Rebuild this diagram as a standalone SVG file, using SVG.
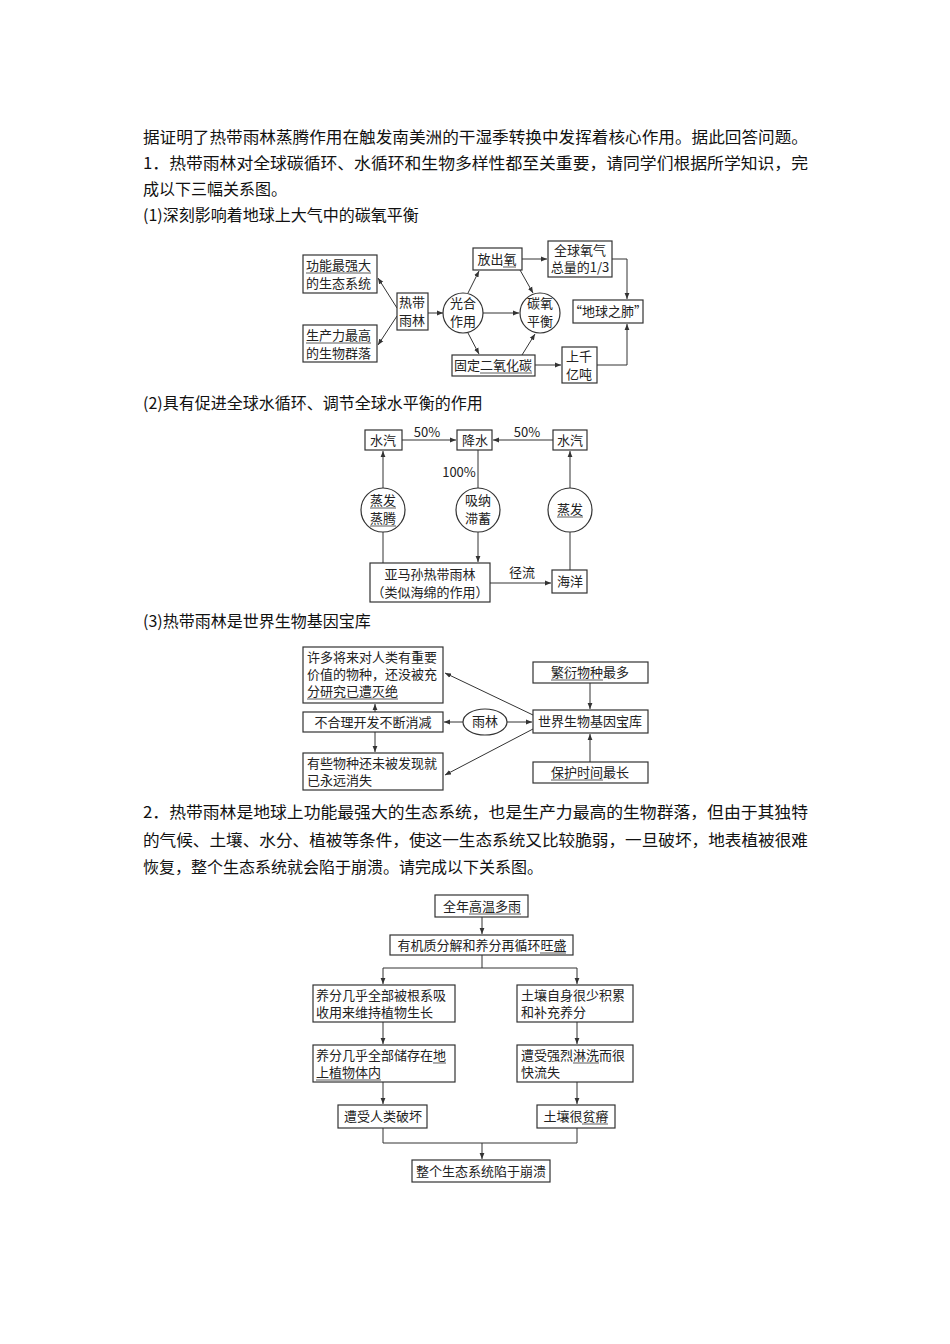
<svg xmlns="http://www.w3.org/2000/svg" width="950" height="1344" viewBox="0 0 950 1344">
<defs>
<marker id="a" viewBox="0 0 10 10" refX="10" refY="5" markerWidth="6" markerHeight="6" orient="auto"><path d="M0,1 L10,5 L0,9 Z" fill="#333"/></marker>
</defs>
<style>
.b{fill:#fff;stroke:#333;stroke-width:1.2}
.t{font-family:"Noto Sans CJK SC","Liberation Serif",serif;font-size:16px;fill:#111}
.d{font-family:"Noto Sans CJK SC","Liberation Serif",serif;font-size:13px;fill:#222;text-anchor:middle}
.s{text-anchor:start}
.l{fill:none;stroke:#333;stroke-width:1}
.ar{fill:none;stroke:#333;stroke-width:1;marker-end:url(#a)}
.u{stroke:#333;stroke-width:0.8}
</style>
<rect width="950" height="1344" fill="#fff"/>
<g id="text">
<text class="t" x="143" y="143" textLength="665" lengthAdjust="spacingAndGlyphs">据证明了热带雨林蒸腾作用在触发南美洲的干湿季转换中发挥着核心作用。据此回答问题。</text>
<text class="t" x="143" y="169" textLength="665" lengthAdjust="spacingAndGlyphs">1．热带雨林对全球碳循环、水循环和生物多样性都至关重要，请同学们根据所学知识，完</text>
<text class="t" x="143" y="195">成以下三幅关系图。</text>
<text class="t" x="143" y="221">(1)深刻影响着地球上大气中的碳氧平衡</text>
<text class="t" x="143" y="409">(2)具有促进全球水循环、调节全球水平衡的作用</text>
<text class="t" x="143" y="627">(3)热带雨林是世界生物基因宝库</text>
<text class="t" x="143" y="818" textLength="665" lengthAdjust="spacingAndGlyphs">2．热带雨林是地球上功能最强大的生态系统，也是生产力最高的生物群落，但由于其独特</text>
<text class="t" x="143" y="846" textLength="665" lengthAdjust="spacingAndGlyphs">的气候、土壤、水分、植被等条件，使这一生态系统又比较脆弱，一旦破坏，地表植被很难</text>
<text class="t" x="143" y="873">恢复，整个生态系统就会陷于崩溃。请完成以下关系图。</text>
</g>
<g id="connectors">
<line class="ar" x1="397" y1="308" x2="378" y2="278"/>
<line class="ar" x1="397" y1="316" x2="378" y2="345"/>
<line class="ar" x1="428" y1="313" x2="443" y2="313"/>
<line class="ar" x1="468" y1="293" x2="479" y2="271"/>
<line class="ar" x1="468" y1="333" x2="479" y2="354"/>
<line class="ar" x1="483" y1="313" x2="519" y2="313"/>
<line class="ar" x1="520" y1="270" x2="533" y2="293"/>
<line class="ar" x1="522" y1="355" x2="535" y2="334"/>
<line class="ar" x1="522" y1="259" x2="547" y2="259"/>
<polyline class="ar" points="612,259 627,259 627,299"/>
<line class="ar" x1="535" y1="365" x2="561" y2="365"/>
<polyline class="ar" points="597,365 627,365 627,324"/>
<line class="ar" x1="402" y1="440" x2="456" y2="440"/>
<line class="ar" x1="553" y1="440" x2="493" y2="440"/>
<line class="l" x1="383" y1="563" x2="383" y2="532"/>
<line class="ar" x1="383" y1="488" x2="383" y2="451"/>
<line class="l" x1="478" y1="450" x2="478" y2="488"/>
<line class="ar" x1="478" y1="532" x2="478" y2="562"/>
<line class="l" x1="570" y1="570" x2="570" y2="532"/>
<line class="ar" x1="570" y1="488" x2="570" y2="451"/>
<line class="ar" x1="490" y1="583" x2="551" y2="583"/>
<line class="ar" x1="463" y1="722" x2="444" y2="722"/>
<line class="ar" x1="507" y1="722" x2="532" y2="722"/>
<line class="ar" x1="533" y1="715" x2="445" y2="673"/>
<line class="ar" x1="533" y1="729" x2="445" y2="775"/>
<line class="ar" x1="375" y1="712" x2="375" y2="704"/>
<line class="ar" x1="375" y1="732" x2="375" y2="752"/>
<line class="ar" x1="590" y1="683" x2="590" y2="709"/>
<line class="ar" x1="590" y1="762" x2="590" y2="734"/>
<line class="ar" x1="482" y1="917" x2="482" y2="934"/>
<line class="l" x1="482" y1="955" x2="482" y2="968"/>
<line class="l" x1="383" y1="968" x2="577" y2="968"/>
<line class="ar" x1="383" y1="968" x2="383" y2="984"/>
<line class="ar" x1="577" y1="968" x2="577" y2="984"/>
<line class="ar" x1="383" y1="1022" x2="383" y2="1044"/>
<line class="ar" x1="577" y1="1022" x2="577" y2="1044"/>
<line class="ar" x1="383" y1="1082" x2="383" y2="1104"/>
<line class="ar" x1="577" y1="1082" x2="577" y2="1104"/>
<polyline class="l" points="383,1128 383,1143 577,1143 577,1128"/>
<line class="ar" x1="482" y1="1143" x2="482" y2="1159"/>
</g>
<g id="d1">
<g id="n-gn"><rect class="b" x="303" y="255" width="74" height="38"/><text class="d s" x="306" y="270">功能最强大</text><text class="d s" x="306" y="288">的生态系统</text><line class="u" x1="306" y1="273" x2="371" y2="273"/></g>
<g id="n-scl"><rect class="b" x="303" y="325" width="74" height="37"/><text class="d s" x="306" y="340">生产力最高</text><text class="d s" x="306" y="358">的生物群落</text><line class="u" x1="306" y1="343" x2="371" y2="343"/></g>
<g id="n-rf"><rect class="b" x="397" y="293" width="31" height="37"/><text class="d" x="412" y="307">热带</text><text class="d" x="412" y="325">雨林</text></g>
<g id="n-gh"><circle class="b" cx="463" cy="313" r="20"/><text class="d" x="463" y="308">光合</text><text class="d" x="463" y="326">作用</text></g>
<g id="n-ty"><circle class="b" cx="540" cy="313" r="20"/><text class="d" x="540" y="308">碳氧</text><text class="d" x="540" y="326">平衡</text></g>
<g id="n-fcy"><rect class="b" x="473" y="248" width="49" height="22"/><text class="d" x="497" y="264">放出氧</text><line class="u" x1="503" y1="267" x2="516" y2="267"/></g>
<g id="n-qq"><rect class="b" x="548" y="241" width="64" height="36"/><text class="d" x="580" y="255">全球氧气</text><text class="d" x="580" y="272">总量的1/3</text></g>
<g id="n-fei"><rect class="b" x="573" y="300" width="70" height="23"/><text class="d" x="608" y="316">“地球之肺”</text></g>
<g id="n-gd"><rect class="b" x="452" y="355" width="83" height="21"/><text class="d" x="493" y="370">固定二氧化碳</text><line class="u" x1="480" y1="373" x2="532" y2="373"/></g>
<g id="n-sq"><rect class="b" x="562" y="347" width="35" height="36"/><text class="d" x="579" y="361">上千</text><text class="d" x="579" y="379">亿吨</text></g>
</g>
<g id="d2">
<g id="n-sq1"><rect class="b" x="365" y="430" width="37" height="20"/><text class="d" x="383" y="445">水汽</text></g>
<g id="n-js"><rect class="b" x="457" y="430" width="35" height="20"/><text class="d" x="475" y="445">降水</text></g>
<g id="n-sq2"><rect class="b" x="553" y="430" width="34" height="20"/><text class="d" x="570" y="445">水汽</text></g>
<text class="d" x="427" y="437">50%</text>
<text class="d" x="527" y="437">50%</text>
<text class="d" x="459" y="477">100%</text>
<g id="n-zf"><circle class="b" cx="383" cy="510" r="22"/><text class="d" x="383" y="505">蒸发</text><text class="d" x="383" y="523">蒸腾</text><line class="u" x1="370" y1="508" x2="396" y2="508"/><line class="u" x1="370" y1="526" x2="396" y2="526"/></g>
<g id="n-xn"><circle class="b" cx="478" cy="510" r="22"/><text class="d" x="478" y="505">吸纳</text><text class="d" x="478" y="523">滞蓄</text></g>
<g id="n-zf2"><circle class="b" cx="570" cy="510" r="22"/><text class="d" x="570" y="514">蒸发</text><line class="u" x1="557" y1="517" x2="583" y2="517"/></g>
<g id="n-ymx"><rect class="b" x="370" y="563" width="120" height="39"/><text class="d" x="430" y="579">亚马孙热带雨林</text><text class="d" x="430" y="597">（类似海绵的作用）</text></g>
<g id="n-hy"><rect class="b" x="552" y="570" width="35" height="23"/><text class="d" x="570" y="586">海洋</text></g>
<text class="d" x="522" y="577">径流</text>
</g>
<g id="d3">
<g id="n-xd"><rect class="b" x="303" y="647" width="140" height="56"/><text class="d s" x="307" y="662">许多将来对人类有重要</text><text class="d s" x="307" y="679">价值的物种，还没被充</text><text class="d s" x="307" y="696">分研究已遭灭绝</text><line class="u" x1="307" y1="699" x2="398" y2="699"/></g>
<g id="n-bhl"><rect class="b" x="303" y="712" width="140" height="20"/><text class="d" x="373" y="727">不合理开发不断消减</text></g>
<g id="n-yx"><rect class="b" x="303" y="753" width="140" height="37"/><text class="d s" x="307" y="768">有些物种还未被发现就</text><text class="d s" x="307" y="785">已永远消失</text></g>
<g id="n-yl"><ellipse class="b" cx="485" cy="722" rx="22" ry="13"/><text class="d" x="485" y="726">雨林</text></g>
<g id="n-sj"><rect class="b" x="533" y="710" width="115" height="23"/><text class="d" x="590" y="726">世界生物基因宝库</text></g>
<g id="n-fy"><rect class="b" x="533" y="662" width="115" height="21"/><text class="d" x="590" y="677">繁衍物种最多</text><line class="u" x1="551" y1="680" x2="603" y2="680"/></g>
<g id="n-bh"><rect class="b" x="533" y="762" width="115" height="21"/><text class="d" x="590" y="777">保护时间最长</text><line class="u" x1="551" y1="780" x2="603" y2="780"/></g>
</g>
<g id="d4">
<g id="n-qn"><rect class="b" x="435" y="895" width="93" height="22"/><text class="d" x="482" y="911">全年高温多雨</text><line class="u" x1="469" y1="914" x2="521" y2="914"/></g>
<g id="n-yj"><rect class="b" x="390" y="935" width="183" height="20"/><text class="d" x="482" y="950">有机质分解和养分再循环旺盛</text><line class="u" x1="540" y1="953" x2="566" y2="953"/></g>
<g id="n-yf1"><rect class="b" x="313" y="985" width="142" height="37"/><text class="d s" x="316" y="1000">养分几乎全部被根系吸</text><text class="d s" x="316" y="1017">收用来维持植物生长</text></g>
<g id="n-tr1"><rect class="b" x="517" y="985" width="116" height="37"/><text class="d s" x="521" y="1000">土壤自身很少积累</text><text class="d s" x="521" y="1017">和补充养分</text></g>
<g id="n-yf2"><rect class="b" x="313" y="1045" width="142" height="37"/><text class="d s" x="316" y="1060">养分几乎全部储存在地</text><text class="d s" x="316" y="1077">上植物体内</text><line class="u" x1="433" y1="1063" x2="446" y2="1063"/><line class="u" x1="316" y1="1080" x2="381" y2="1080"/></g>
<g id="n-zs"><rect class="b" x="517" y="1045" width="116" height="37"/><text class="d s" x="521" y="1060">遭受强烈淋洗而很</text><text class="d s" x="521" y="1077">快流失</text><line class="u" x1="573" y1="1063" x2="599" y2="1063"/></g>
<g id="n-zr"><rect class="b" x="338" y="1105" width="89" height="23"/><text class="d" x="383" y="1121">遭受人类破坏</text></g>
<g id="n-pj"><rect class="b" x="537" y="1105" width="78" height="23"/><text class="d" x="576" y="1121">土壤很贫瘠</text><line class="u" x1="582" y1="1124" x2="608" y2="1124"/></g>
<g id="n-bk"><rect class="b" x="412" y="1160" width="138" height="22"/><text class="d" x="481" y="1176">整个生态系统陷于崩溃</text></g>
</g>
</svg>
